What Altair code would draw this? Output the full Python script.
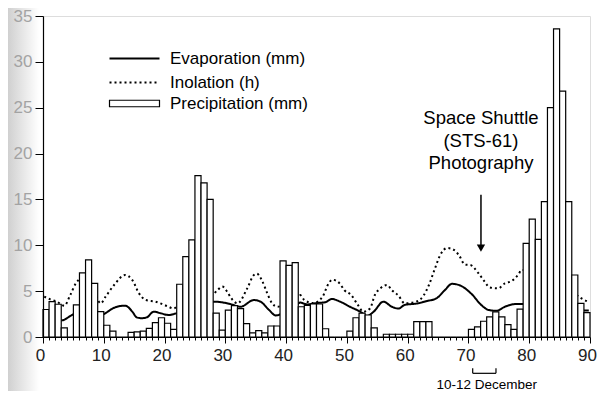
import altair as alt
import pandas as pd

# ---------------- data ----------------
precip = [3.0, 3.85, 3.57, 1.0, 0.0, 3.5, 7.0, 8.4, 5.85, 2.76,
          1.28, 0.65, 0.0, 0.0, 0.5, 0.55, 0.65, 0.95, 1.56, 2.1,
          1.5, 0.84, 5.75, 8.76, 10.6, 17.6, 16.8, 15.0, 2.6, 0.76,
          2.94, 3.42, 3.1, 1.45, 0.45, 0.7, 0.45, 1.2, 1.2, 8.3,
          7.8, 8.1, 3.3, 3.45, 3.6, 3.6, 0.9, 0.0, 0.0, 0.0,
          0.65, 2.1, 2.6, 2.4, 1.0, 0.0, 0.3, 0.3, 0.3, 0.3,
          0.3, 1.67, 1.67, 1.67, 0.0, 0.0, 0.0, 0.0, 0.0, 0.0,
          0.84, 1.1, 1.72, 2.2, 2.75, 2.2, 1.36, 0.84, 3.05, 10.2,
          12.85, 10.65, 14.75, 25.0, 33.6, 26.8, 14.75, 6.76, 3.67, 2.65]
days = list(range(len(precip)))

evap_day = [3.0, 3.4, 4.5, 5.3, 6.5, 8.0, 9.5, 10.4, 11.3, 12.2, 13.5, 14.7, 15.4,
            16.2, 17.1, 18.2, 19.3, 20.7, 22.0, 24.0, 26.0, 28.3, 30.8, 32.5,
            34.7, 35.8, 37.2, 38.3, 40.0, 41.5, 42.3, 43.5, 45.0, 46.5, 47.5,
            48.9, 50.5, 52.2, 53.3, 54.4, 56.0, 57.4, 58.5, 59.5, 61.7, 63.0,
            64.7, 66.1, 67.3, 68.7, 70.5, 72.1, 73.3, 74.6, 76.0, 77.9, 78.7,
            82.0, 86.0, 89.1, 89.8]
evap_val = [1.8, 1.85, 2.3, 2.6, 2.9, 3.0, 2.4, 2.65, 3.05, 3.3, 3.42, 2.76, 2.15,
            2.05, 2.15, 2.76, 2.6, 2.4, 2.6, 3.0, 3.5, 3.85, 3.6, 3.3,
            4.03, 3.85, 2.94, 2.35, 2.8, 3.3, 3.75, 3.55, 3.7, 3.8, 4.15,
            3.85, 3.3, 2.76, 2.3, 2.76, 3.85, 3.3, 3.1, 3.5, 3.67, 3.9,
            4.2, 5.1, 5.8, 5.6, 4.7, 3.5, 2.95, 2.85, 3.3, 3.6, 3.6,
            3.5, 3.3, 2.9, 2.9]

inol_day = [0.2, 1.2, 2.3, 3.5, 4.5, 5.4, 6.4, 7.3, 8.3, 9.5, 10.3, 11.7, 13.5,
            14.7, 15.8, 16.9, 18.5, 20.4, 21.5, 22.4, 24.0, 26.0, 27.8, 28.7,
            29.5, 30.3, 31.0, 32.0, 33.6, 34.7, 35.2, 36.0, 36.9, 37.7, 38.6,
            40.5, 42.3, 43.0, 44.5, 46.0, 47.0, 47.6, 48.8, 49.6, 50.7, 51.8,
            52.7, 53.8, 54.6, 55.5, 56.6, 57.4, 58.5, 59.5, 61.4, 62.6, 63.5,
            64.4, 65.4, 66.5, 67.6, 68.5, 69.4, 70.3, 71.6, 72.7, 73.5, 74.9,
            76.0, 77.1, 78.3, 78.7, 81.0, 84.0, 87.0, 88.6, 89.7]
inol_val = [4.4, 4.1, 3.85, 3.4, 4.6, 5.85, 6.5, 6.7, 5.2, 3.67, 4.4, 5.67, 6.76,
            6.2, 4.76, 4.03, 3.85, 3.38, 3.1, 3.67, 4.3, 4.5, 4.6, 5.1,
            5.5, 4.94, 4.2, 3.67, 5.3, 6.76, 6.9, 6.2, 4.76, 3.67, 3.3,
            4.0, 4.58, 4.03, 3.7, 4.4, 5.85, 6.25, 5.85, 5.1, 4.58, 3.5,
            2.76, 3.1, 4.58, 5.3, 5.67, 5.1, 4.5, 3.67, 3.85, 4.5, 5.67,
            7.3, 9.0, 9.7, 9.5, 8.85, 7.9, 7.85, 7.0, 6.0, 5.4, 5.3,
            5.85, 6.1, 6.9, 7.3, 7.0, 6.0, 5.0, 4.2, 3.85]

series_names = ["Evaporation (mm)", "Inolation (h)", "Precipitation (mm)"]
x_ticks = list(range(0, 91))
y_ticks = [0, 5, 10, 15, 20, 25, 30, 35]

note_lines = ["Space Shuttle", "(STS-61)", "Photography"]
note_x = 72.06
note_y = [23.88, 21.37, 18.97]
arrow_x = [72.06]
arrow_top = [15.5]
arrow_tip = [9.7]
bracket_x = [70.7, 74.53]
bracket_top = -3.41
bracket_bottom = -3.96
bracket_label = "10-12 December"
bracket_label_x = 73.0
bracket_label_y = -5.2

# ---------------- tables ----------------
bars_df = pd.DataFrame({"x": days, "x_end": [d + 1 for d in days], "y": precip,
                        "series": series_names[2]})
lines_df = pd.concat([
    pd.DataFrame({"x": evap_day, "y": evap_val, "series": series_names[0]}),
    pd.DataFrame({"x": inol_day, "y": inol_val, "series": series_names[1]}),
])
note_df = pd.DataFrame({"x": [note_x] * 3, "y": note_y, "text": note_lines})
arrow_df = pd.DataFrame({"x": arrow_x, "y": arrow_top, "y2": arrow_tip})
bracket_h = pd.DataFrame({"x": [bracket_x[0]], "x2": [bracket_x[1]], "y": [bracket_bottom]})
bracket_v = pd.DataFrame({"x": bracket_x, "y": [bracket_top] * 2, "y2": [bracket_bottom] * 2})
blabel_df = pd.DataFrame({"x": [bracket_label_x], "y": [bracket_label_y], "text": [bracket_label]})

FONT = "Liberation Sans"

xs = alt.Scale(domain=[0, 90], nice=False, zero=False)
ys = alt.Scale(domain=[0, 35], nice=False, zero=False)

x_axis = alt.Axis(values=x_ticks,
                  labelExpr="datum.value % 10 === 0 ? datum.label : ''",
                  tickSize={"condition": {"test": "datum.value % 10 === 0", "value": 6}, "value": 3},
                  labelFontSize=17, labelColor="#222222", labelPadding=4, labelOffset=-3,
                  labelOverlap=False, labelFlush=False, grid=False, zindex=2,
                  domainColor="black", tickColor="black", domainWidth=1.2, tickWidth=1,
                  title=None)
y_axis = alt.Axis(values=y_ticks, tickSize=8, labelFontSize=17, labelColor="#a3a3a3",
                  labelPadding=3, labelFlush=False, labelOverlap=False, grid=False, zindex=2,
                  domainColor="black", tickColor="black", domainWidth=1.2, tickWidth=1,
                  title=None)

X = lambda f="x": alt.X(f"{f}:Q", scale=xs, axis=x_axis, title=None)
Y = lambda f="y": alt.Y(f"{f}:Q", scale=ys, axis=y_axis, title=None)

shade = alt.Chart(pd.DataFrame({"a": [0]})).mark_rect(
    color=alt.LinearGradient(gradient="linear",
                             stops=[alt.GradientStop(color="#d0d0d0", offset=0),
                                    alt.GradientStop(color="#ffffff", offset=1)],
                             x1=0, x2=1, y1=0, y2=0)
).encode(x=alt.value(-35), x2=alt.value(-4), y=alt.value(-8), y2=alt.value(375))

LINE_SYM = "M-5,0L5,0"
BAR_SYM = "M-5,-0.65L5,-0.65L5,0.65L-5,0.65Z"

lines = alt.Chart(lines_df).mark_line(color="black", strokeWidth=2, interpolate="monotone").encode(
    x=X(), y=Y(),
    strokeDash=alt.StrokeDash("series:N",
                              scale=alt.Scale(domain=series_names[:2], range=[[1, 0], [2, 3]]),
                              legend=alt.Legend(title=None, orient="none", legendX=83, legendY=34,
                                                symbolType=LINE_SYM, symbolSize=100,
                                                symbolStrokeWidth=2, symbolStrokeColor="black",
                                                labelFontSize=17, labelFont=FONT, labelOffset=27,
                                                rowPadding=6, labelColor="black")),
    order=alt.Order("x:Q"),
)

bars = alt.Chart(bars_df).mark_bar(fill="white", strokeWidth=1.2, binSpacing=0).encode(
    x=X(), x2="x_end:Q", y=Y(), y2=alt.datum(0),
    stroke=alt.Stroke("series:N", scale=alt.Scale(domain=[series_names[2]], range=["black"]),
                      legend=alt.Legend(title=None, orient="none", legendX=83, legendY=79,
                                        symbolType=BAR_SYM,
                                        symbolSize=100, symbolFillColor="white",
                                        symbolStrokeColor="black", symbolStrokeWidth=1.2,
                                        labelFontSize=17, labelFont=FONT, labelOffset=27,
                                        labelColor="black")),
)

note = alt.Chart(note_df).mark_text(fontSize=18.5, font=FONT, color="black", baseline="middle",
                                    align="center").encode(x=X(), y=Y(), text="text:N")
arrow = alt.Chart(arrow_df).mark_rule(color="black", strokeWidth=1.5).encode(x=X(), y=Y(), y2="y2:Q")
arrow_head = alt.Chart(arrow_df).mark_point(shape="triangle-down", filled=True, color="black",
                                            size=70, opacity=1).encode(x=X(), y=Y("y2"))
br_h = alt.Chart(bracket_h).mark_rule(color="black", strokeWidth=1.2).encode(x=X(), x2="x2:Q", y=Y())
br_v = alt.Chart(bracket_v).mark_rule(color="black", strokeWidth=1.2).encode(x=X(), y=Y(), y2="y2:Q")
blabel = alt.Chart(blabel_df).mark_text(fontSize=13.5, font=FONT, color="black", baseline="middle",
                                        align="center").encode(x=X(), y=Y(), text="text:N")

chart = alt.layer(shade, lines, bars, note, arrow, arrow_head, br_h, br_v, blabel).properties(
    width=547, height=321,
    padding={"left": 35, "top": 8, "right": 7, "bottom": 54},
    autosize=alt.AutoSizeParams(type="none"),
).configure_view(stroke=None).configure(font=FONT)

chart.save("out.html", embed_options={"renderer": "svg", "actions": False})
